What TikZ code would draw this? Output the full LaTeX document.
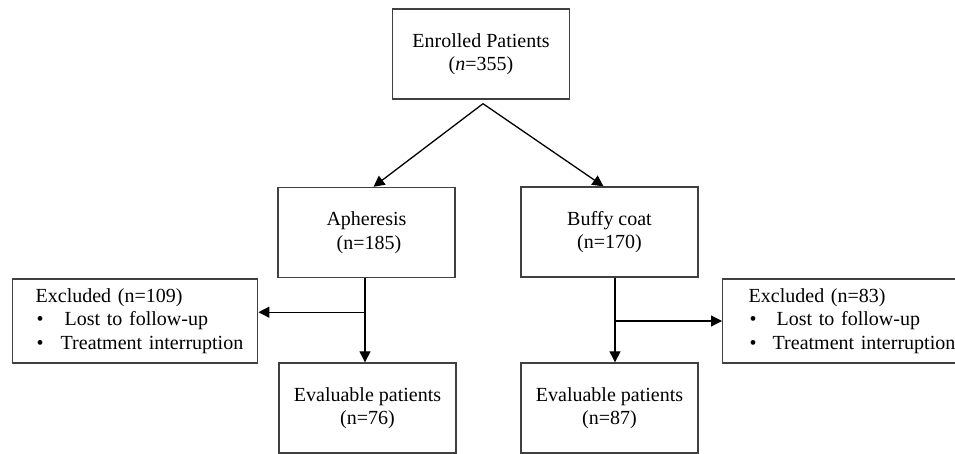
\documentclass[tikz,border=0pt]{standalone}
\usepackage{fontspec}
\setmainfont{Liberation Serif}
\usetikzlibrary{arrows.meta}
\begin{document}
\begin{tikzpicture}[x=1pt,y=1pt,
  box/.style={draw=black!75,line width=1.4pt,minimum width=177pt,minimum height=90pt,align=center,inner sep=0pt,
    font=\fontsize{20}{23.5}\selectfont},
  exbox/.style={draw=black!75,line width=1.4pt,minimum width=245pt,minimum height=84pt,align=left,inner sep=0pt,
    text width=245pt,font=\fontsize{20}{23.5}\selectfont},
  conn/.style={draw=black,line width=1.3pt,-{Triangle[length=11pt,width=11pt]}}]
\useasboundingbox (0,0) rectangle (955,-454);
\node[box] (enr) at (481,-54) {Enrolled Patients\\(\textit{n}=355)};
\node[box] (aph) at (366.5,-232.5) {Apheresis\\\ (n=185)};
\node[box] (buf) at (609.5,-232) {Buffy coat\\(n=170)};
\node[box] (evL) at (367.5,-408) {Evaluable patients\\(n=76)};
\node[box] (evR) at (609.5,-408) {Evaluable patients\\(n=87)};
\node[exbox,anchor=west] (exL) at (12,-321) {\hspace*{23pt}Excluded (n=109)\\
  \hspace*{24pt}\makebox[28pt][l]{\textbullet}Lost to follow-up\\
  \hspace*{24pt}\makebox[24pt][l]{\textbullet}Treatment interruption};
\node[exbox,anchor=west] (exR) at (722,-321) {\hspace*{26pt}Excluded (n=83)\\
  \hspace*{27pt}\makebox[27pt][l]{\textbullet}Lost to follow-up\\
  \hspace*{27pt}\makebox[23pt][l]{\textbullet}Treatment interruption};
\coordinate (top) at ([xshift=2pt,yshift=-4pt]enr.south);
\draw[conn] (top) -- ([xshift=7pt]aph.north);
\draw[conn] (top) -- ([xshift=-6pt]buf.north);
\coordinate (lx) at ([xshift=-1.5pt]aph.south);
\coordinate (brL) at ([yshift=-34pt]lx);
\draw[conn] (lx) -- (lx |- evL.north);
\draw[conn] (brL) -- (exL.east |- brL);
\coordinate (rx) at ([xshift=5.5pt]buf.south);
\coordinate (brR) at (rx |- exR.west);
\draw[conn] (rx) -- (rx |- evR.north);
\draw[conn] (brR) -- (exR.west);
\end{tikzpicture}
\end{document}
